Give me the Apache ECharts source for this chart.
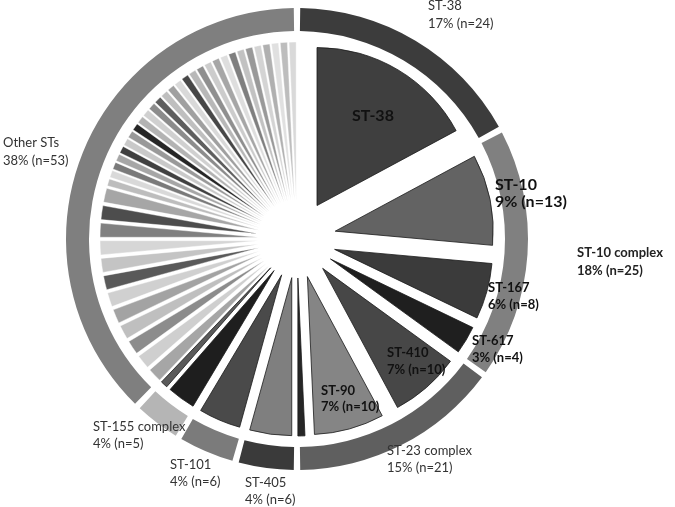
<!DOCTYPE html>
<html><head><meta charset="utf-8">
<script src="https://cdn.jsdelivr.net/npm/echarts@6/dist/echarts.min.js"></script>
<style>html,body{margin:0;padding:0;background:#fff}#c{width:675px;height:507px}</style>
</head><body><div id="c"></div>
<script>
const TOTAL = 140;
// Outer ring: clonal complexes / groups (clockwise from 12 o'clock)
const groupNames = ['ST-38','ST-10 complex','ST-23 complex','ST-405','ST-101','ST-155 complex','Other STs'];
const groupValues = [24,25,21,6,6,5,53];
const groupColors = ['#3c3c3c','#808080','#5f5f5f','#3a3a3a','#7b7b7b','#b5b5b5','#7f7f7f'];

// Inner pie: sequence types (clockwise from 12 o'clock)
const stNames = ['ST-38','ST-10','ST-167','ST-617','ST-410','ST-90','ST-23 cx other','ST-405','ST-101','ST-155 cx a','ST-155 cx b'];
const stValues = [24,13,8,4,10,10,1,6,6,4,1];
const stColors = ['#3f3f3f','#636363','#3b3b3b','#1f1f1f','#474747','#858585','#262626','#7f7f7f','#4a4a4a','#1e1e1e','#5a5a5a'];

// Other STs (n=53) split into individual STs
const otherValues = [2,2,2,2,2,2,2,2,2,2,2,2, 1,1,1,1,1,1,1,1,1,1,1,1,1,1,1,1,1,1,1,1,1,1,1,1,1,1,1,1,1];
const otherColors = ['#a6a6a6','#cfcfcf','#8c8c8c','#bfbfbf','#a3a3a3','#d0d0d0','#595959','#c4c4c4','#d6d6d6','#808080','#4d4d4d','#a6a6a6',
  '#bdbdbd','#d9d9d9','#7a7a7a','#a6a6a6','#404040','#c9c9c9','#999999','#262626','#b3b3b3','#d0d0d0','#8c8c8c','#5e5e5e','#bfbfbf','#a0a0a0',
  '#d9d9d9','#474747','#b8b8b8','#8f8f8f','#cccccc','#a6a6a6','#dedede','#7f7f7f','#c2c2c2','#999999','#d4d4d4','#b0b0b0','#e0e0e0','#bdbdbd','#d9d9d9'];

const pct = v => Math.round(v / TOTAL * 100);
const FONT = 'Lato, "Open Sans", sans-serif';

const innerData = [];
stNames.forEach((n, i) => {
  const st = {color: stColors[i], borderColor: '#1a1a1a', borderWidth: 0.8};
  innerData.push({name: n, value: stValues[i], selected: true, itemStyle: st, select: {itemStyle: st}});
});
otherValues.forEach((v, i) => {
  const st = {color: otherColors[i], borderColor: '#ffffff', borderWidth: 0.4};
  innerData.push({name: 'Other ' + (i + 1), value: v, selected: true, itemStyle: st, select: {itemStyle: st}});
});

const ringData = groupNames.map((n, i) => ({name: n, value: groupValues[i], itemStyle: {color: groupColors[i]}}));

function lbl(text, x, y, size, weight, lh, color) {
  return {type: 'text', x: x, y: y, z: 100, zlevel: 0, silent: true,
    style: {text: text, fontSize: size, fontWeight: weight, fontFamily: FONT, fill: color || '#333', lineHeight: lh, verticalAlign: 'top', align: 'left'}};
}
const g = i => groupNames[i] + '\n' + pct(groupValues[i]) + '% (n=' + groupValues[i] + ')';
const s = i => stNames[i] + '\n' + pct(stValues[i]) + '% (n=' + stValues[i] + ')';

const graphics = [
  lbl(g(0), 428, -3, 13, 'normal', 18),
  lbl(stNames[0], 352, 106, 16, 'bold', 20, '#111'),
  lbl(s(1), 495, 176, 16, 'bold', 17, '#111'),
  lbl(g(1), 577, 244, 13, 'bold', 18, '#222'),
  lbl(s(2), 488, 279.5, 13, 'bold', 17, '#111'),
  lbl(s(3), 472, 332.5, 13, 'bold', 17, '#111'),
  lbl(s(4), 387, 344.5, 13, 'bold', 17, '#111'),
  lbl(s(5), 321, 382.5, 13, 'bold', 16.5, '#111'),
  lbl(g(2), 387, 442.5, 13, 'normal', 17),
  lbl(g(3), 245, 474, 13, 'normal', 17),
  lbl(g(4), 170, 456.5, 13, 'normal', 17),
  lbl(g(5), 93, 418.5, 13, 'normal', 17),
  lbl(g(6), 3, 134, 13, 'normal', 18)
];

const chart = echarts.init(document.getElementById('c'));
chart.setOption({
  animation: false,
  backgroundColor: '#ffffff',
  series: [
    {
      type: 'pie', center: [297, 239], radius: [0, 158], startAngle: 90, clockwise: true,
      selectedMode: 'multiple', selectedOffset: 39, silent: true, z: 2,
      label: {show: false}, labelLine: {show: false}, emphasis: {disabled: true},
      data: innerData
    },
    {
      type: 'pie', center: [297, 239], radius: [208, 231], startAngle: 90, clockwise: true,
      padAngle: 1.6, silent: true, z: 2,
      label: {show: false}, labelLine: {show: false}, emphasis: {disabled: true},
      data: ringData
    }
  ],
  graphic: {elements: graphics}
});
</script>
</body></html>
